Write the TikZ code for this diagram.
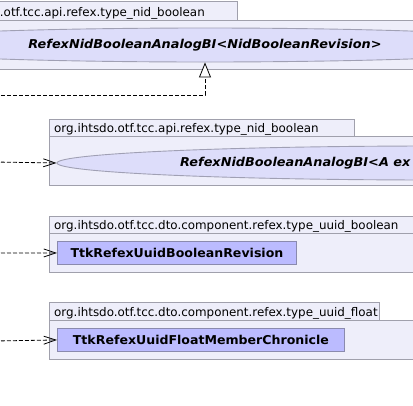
\documentclass[tikz,border=0pt]{standalone}
\usepackage{fontspec}
\setmainfont{DejaVu Sans}
\newfontfamily\clsfont{DejaVu Sans}[FakeStretch=1.03]
\newfontfamily\ellfont{DejaVu Sans}[FakeStretch=1.053]
\usetikzlibrary{shapes.geometric,arrows.meta}
\definecolor{pkgfill}{HTML}{EEEEFA}
\definecolor{pkgline}{HTML}{A0A0AC}
\definecolor{ellfill}{HTML}{DDDDFA}
\definecolor{ellline}{HTML}{A0A0B4}
\definecolor{clsfill}{HTML}{BBBBFF}
\definecolor{clsline}{HTML}{8A8AAE}
\begin{document}
\begin{tikzpicture}[x=1pt,y=-1pt,
  pkgbox/.style={draw=pkgline, fill=pkgfill, line width=0.9pt, rectangle, inner sep=0pt, anchor=north west},
  pkglabel/.style={inner sep=0pt, anchor=base west, font=\fontsize{11.9}{14}\selectfont},
  ellnode/.style={ellipse, draw=ellline, fill=ellfill, line width=0.9pt, inner sep=0pt, minimum height=34pt, font=\ellfont\fontsize{12.2}{14}\selectfont\bfseries\itshape},
  elltext/.style={rectangle, inner sep=0pt, font=\ellfont\fontsize{12.2}{14}\selectfont\bfseries\itshape},
  clsbox/.style={rectangle, draw=clsline, fill=clsfill, line width=0.9pt, inner sep=0pt, anchor=north west, minimum height=23pt, font=\clsfont\fontsize{12.2}{14}\selectfont\bfseries},
  dep/.style={draw=black, line width=0.8pt, dash pattern=on 4pt off 2pt},
]
\useasboundingbox (0,0) rectangle (413,405);
\clip (0,0) rectangle (413,405);
\fill[white] (0,0) rectangle (413,405);

% package 1
\node[pkgbox, minimum width=307pt, minimum height=19pt] (tab1) at (-70,1) {};
\node[pkgbox, minimum width=560pt, minimum height=49pt] (body1) at (-70,20) {};
\node[pkglabel, anchor=base east] (lab1) at (205,16) {.otf.tcc.api.refex.type\_nid\_boolean};
\node[ellnode, minimum width=720pt] (e1) at (205,45) {RefexNidBooleanAnalogBI<NidBooleanRevision>};

% package 2
\node[pkgbox, minimum width=305pt, minimum height=17pt] (tab2) at (49,119) {};
\node[pkgbox, minimum width=420pt, minimum height=49pt] (body2) at (49,136) {};
\node[pkglabel] (lab2) at (54,132.5) {org.ihtsdo.otf.tcc.api.refex.type\_nid\_boolean};
\node[ellnode, minimum width=756pt] (e2) at (435,163) {};
\node[elltext, anchor=west] (t2) at (180,163) {RefexNidBooleanAnalogBI<A ex};

% package 3
\node[pkgbox, minimum width=370pt, minimum height=17pt] (tab3) at (49,216) {};
\node[pkgbox, minimum width=420pt, minimum height=39pt] (body3) at (49,233) {};
\node[pkglabel] (lab3) at (54,229.5) {org.ihtsdo.otf.tcc.dto.component.refex.type\_uuid\_boolean};
\node[clsbox, minimum width=239pt] (k3) at (57,241) {TtkRefexUuidBooleanRevision};

% package 4
\node[pkgbox, minimum width=330pt, minimum height=18pt] (tab4) at (49,302) {};
\node[pkgbox, minimum width=420pt, minimum height=39pt] (body4) at (49,320) {};
\node[pkglabel] (lab4) at (54,316.5) {org.ihtsdo.otf.tcc.dto.component.refex.type\_uuid\_float};
\node[clsbox, minimum width=287pt] (k4) at (57,328) {TtkRefexUuidFloatMemberChronicle};

% connectors
\coordinate (c1) at (-5,95);
\coordinate (c2) at (-5,162);
\coordinate (c3) at (-5,253);
\coordinate (c4) at (-5,341);
\draw[dep, -{Triangle[length=15pt,width=12pt,fill=white,line width=0.8pt]}] (c1) -| (e1.south);
\draw[dep, -{Straight Barb[length=12pt,width=8pt,line width=0.8pt]}] (c2) -- (e2.west);
\draw[dep, -{Straight Barb[length=12pt,width=8pt,line width=0.8pt]}] (c3) -- (k3.west);
\draw[dep, -{Straight Barb[length=12pt,width=8pt,line width=0.8pt]}] (c4) -- (k4.west);
\end{tikzpicture}
\end{document}
